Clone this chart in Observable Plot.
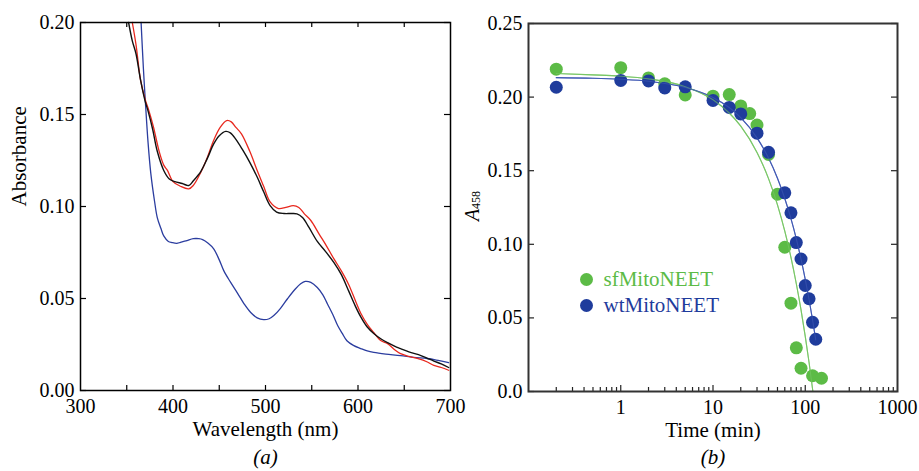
<!DOCTYPE html>
<html><head><meta charset="utf-8">
<script src="https://cdn.jsdelivr.net/npm/d3@7"></script>
<script src="https://cdn.jsdelivr.net/npm/@observablehq/plot@0.6"></script>
<style>
body{margin:0;background:#fff;}
#wrap{display:flex;width:919px;height:471px;background:#fff;}
#wrap svg{overflow:visible;flex:none;}
#wrap svg text{font-family:"Liberation Serif","Tinos","Times New Roman","DejaVu Serif","Noto Serif",serif;}
</style></head><body><div id="wrap"></div>
<script>
// ---------- Panel (a): absorbance spectra ----------
const blackWavelength = [352,356,360,365,370,373,378,383,390,396,402,410,417,422,430,437,444,450,457,462,468,475,483,491,498,505,512,520,528,534,540,547,556,565,574,582,590,597,603,610,617,625,632,640,646,655,668,675,682,690,698];
const blackAbsorbance = [0.200,0.190,0.183,0.1685,0.157,0.152,0.142,0.130,0.1196,0.115,0.1135,0.1125,0.1114,0.114,0.119,0.126,0.134,0.1385,0.1408,0.140,0.1365,0.131,0.124,0.116,0.108,0.1005,0.097,0.0962,0.0962,0.0960,0.094,0.0886,0.081,0.0755,0.0695,0.063,0.054,0.046,0.040,0.0345,0.031,0.028,0.026,0.024,0.0228,0.021,0.019,0.0175,0.016,0.0145,0.0125];

const redWavelength = [356,360,365,370,374,379,385,390,394,400,408,417,422,430,437,444,451,458,463,468,474,483,491,498,505,514,522,530,536,542,549,558,566,574,582,590,597,603,610,617,625,632,640,646,655,664,675,682,690,698];
const redAbsorbance = [0.200,0.188,0.1685,0.158,0.152,0.143,0.130,0.1225,0.1196,0.1135,0.111,0.1096,0.1115,0.1185,0.1265,0.136,0.143,0.1467,0.146,0.143,0.1395,0.130,0.1196,0.111,0.1025,0.0989,0.0995,0.1005,0.0995,0.096,0.0924,0.085,0.0785,0.0715,0.065,0.0575,0.049,0.042,0.036,0.0315,0.027,0.0255,0.022,0.020,0.0185,0.0174,0.0155,0.0136,0.0125,0.011];

const blueWavelength = [365.5,368,370,373,376,380,383,387,390,395,399,404,408,415,422,428,432,438,444,450,455,462,470,477,484,491,498,504,509,516,524,532,538,543,549,556,562,567,573,578,583,588,595,603,610,617,630,646,660,675,688,698];
const blueAbsorbance = [0.200,0.175,0.158,0.135,0.118,0.103,0.094,0.088,0.084,0.081,0.0804,0.080,0.0805,0.0815,0.0825,0.0825,0.082,0.080,0.077,0.071,0.065,0.059,0.0527,0.047,0.0424,0.0395,0.0385,0.039,0.0407,0.0445,0.050,0.055,0.058,0.0593,0.0588,0.056,0.052,0.047,0.041,0.0353,0.031,0.027,0.0245,0.0228,0.0215,0.0207,0.0198,0.019,0.018,0.0174,0.0162,0.0152];

const aXTickLabels = [300,400,500,600,700];
const aXTickMarks = [350,400,450,500,550,600,650];
const aYTicks = [0,0.05,0.10,0.15,0.20];

// ---------- Panel (b): A458 vs time ----------
const sfTime = [0.2,1,2,3,5,10,15,20,25,30,40,50,60,70,80,90,120,150];
const sfA458 = [0.219,0.220,0.213,0.209,0.2015,0.2006,0.2017,0.194,0.1888,0.181,0.161,0.134,0.098,0.060,0.0297,0.0158,0.0107,0.009];
const wtTime = [0.2,1,2,3,5,10,15,20,30,40,60,70,80,90,100,110,120,130];
const wtA458 = [0.2067,0.2113,0.211,0.2062,0.207,0.1977,0.193,0.1886,0.1755,0.1625,0.135,0.1214,0.1012,0.090,0.072,0.063,0.047,0.0355];

const sfFitTime = [0.2,0.5,1,2,5,10,15,20,30,40,50,60,70,80,90,100,110,121];
const sfFitA458 = [0.2160,0.2151,0.2142,0.2124,0.2071,0.1982,0.1892,0.1803,0.1624,0.1446,0.1268,0.1089,0.0911,0.0732,0.0554,0.0375,0.0197,0.0];
const wtFitTime = [0.2,0.5,1,2,5,10,15,20,30,40,50,60,70,80,90,100,110,120,130];
const wtFitA458 = [0.2132,0.2128,0.2121,0.2108,0.2066,0.1998,0.1929,0.1860,0.1723,0.1586,0.1449,0.1311,0.1174,0.1037,0.0899,0.0762,0.0625,0.0487,0.0350];

const bXTickLabels = [1,10,100,1000];
const bXMajor = [1,10,100];
const bXMinor = [0.2,0.3,0.4,0.5,0.6,0.7,0.8,0.9,2,3,4,5,6,7,8,9,20,30,40,50,60,70,80,90,200,300,400,500,600,700,800,900];
const bYTicks = [0,0.05,0.10,0.15,0.20,0.25];

const seriesNames = ["sfMitoNEET","wtMitoNEET"];

// ---------- styling ----------
const FONT = '"Liberation Serif", "Tinos", "Times New Roman", "DejaVu Serif", "Noto Serif", serif';
const RED = "#e8281e", BLACK = "#111111", BLUE_A = "#2b3d9f";
const GREEN = "#5cbb46", BLUE_B = "#1f3c9c", GREEN_LINE = "#78c665", BLUE_LINE = "#4058b4";

const rows = (xs, ys) => xs.map((x, i) => ({x, y: ys[i]}));

// Panel a geometry
const aW = 460, aH = 471, aMT = 22, aMR = 10, aMB = 81, aML = 80;
const aIH = aH - aMT - aMB, aIW = aW - aML - aMR;

const plotA = Plot.plot({
  width: aW, height: aH,
  marginTop: aMT, marginRight: aMR, marginBottom: aMB, marginLeft: aML,
  style: {fontFamily: FONT, fontSize: "20px", background: "transparent", overflow: "visible"},
  x: {domain: [300, 700], label: null},
  y: {domain: [0, 0.2], label: null},
  marks: [
    Plot.line(rows(blueWavelength, blueAbsorbance), {x: "x", y: "y", stroke: BLUE_A, strokeWidth: 1.3, curve: "catmull-rom"}),
    Plot.line(rows(redWavelength, redAbsorbance), {x: "x", y: "y", stroke: RED, strokeWidth: 1.3, curve: "catmull-rom"}),
    Plot.line(rows(blackWavelength, blackAbsorbance), {x: "x", y: "y", stroke: BLACK, strokeWidth: 1.4, curve: "catmull-rom"}),
    Plot.ruleX(aXTickMarks, {stroke: "black", strokeWidth: 1.2, insetTop: aIH - 5}),
    Plot.ruleX(aXTickMarks, {stroke: "black", strokeWidth: 1.2, insetBottom: aIH - 5}),
    Plot.ruleY(aYTicks, {stroke: "black", strokeWidth: 1.2, insetRight: aIW - 6}),
    Plot.ruleY(aYTicks, {stroke: "black", strokeWidth: 1.2, insetLeft: aIW - 6}),
    Plot.frame({stroke: "black", strokeWidth: 1.5}),
    Plot.axisX({ticks: aXTickLabels, tickSize: 0, tickPadding: 8, tickFormat: d => String(d), label: null, fontSize: 20, fontFamily: FONT}),
    Plot.axisY({ticks: aYTicks, tickSize: 0, tickPadding: 6, tickFormat: d3.format(".2f"), label: null, fontSize: 20, fontFamily: FONT}),
    Plot.text(["Wavelength (nm)"], {frameAnchor: "bottom", dy: 45, fontSize: 21, fill: "black", fontFamily: FONT}),
    Plot.text(["(a)"], {frameAnchor: "bottom", dy: 73, fontSize: 21, fontStyle: "italic", fill: "black", fontFamily: FONT}),
    Plot.text(["Absorbance"], {frameAnchor: "left", dx: -61, rotate: -90, fontSize: 21, fill: "black", fontFamily: FONT})
  ]
});

// Panel b geometry
const bW = 459, bH = 471, bMT = 23, bMR = 22, bMB = 80, bML = 68;
const bIH = bH - bMT - bMB, bIW = bW - bML - bMR;

const plotB = Plot.plot({
  width: bW, height: bH,
  marginTop: bMT, marginRight: bMR, marginBottom: bMB, marginLeft: bML,
  style: {fontFamily: FONT, fontSize: "20px", background: "transparent", overflow: "visible"},
  x: {type: "log", domain: [0.1, 1000], label: null},
  y: {domain: [0, 0.25], label: null},
  marks: [
    Plot.line(rows(sfFitTime, sfFitA458), {x: "x", y: "y", stroke: GREEN_LINE, strokeWidth: 1.1, curve: "monotone-x"}),
    Plot.line(rows(wtFitTime, wtFitA458), {x: "x", y: "y", stroke: BLUE_LINE, strokeWidth: 1.1, curve: "monotone-x"}),
    Plot.dot(rows(sfTime, sfA458), {x: "x", y: "y", r: 6.5, fill: GREEN, stroke: "none"}),
    Plot.dot(rows(wtTime, wtA458), {x: "x", y: "y", r: 6.5, fill: BLUE_B, stroke: "none"}),
    Plot.line(rows(sfFitTime, sfFitA458), {x: "x", y: "y", stroke: GREEN_LINE, strokeWidth: 1.1, curve: "monotone-x", strokeOpacity: 0.6}),
    Plot.line(rows(wtFitTime, wtFitA458), {x: "x", y: "y", stroke: BLUE_LINE, strokeWidth: 1.1, curve: "monotone-x", strokeOpacity: 0.6}),
    Plot.ruleX(bXMajor, {stroke: "#222", strokeWidth: 1.2, insetTop: bIH - 6}),
    Plot.ruleX(bXMinor, {stroke: "#222", strokeWidth: 1.2, insetTop: bIH - 4}),
    Plot.ruleY(bYTicks, {stroke: "#222", strokeWidth: 1.2, insetRight: bIW - 6}),
    Plot.ruleY(bYTicks, {stroke: "#222", strokeWidth: 1.2, insetLeft: bIW - 6}),
    Plot.frame({stroke: "#333", strokeWidth: 2}),
    Plot.axisX({ticks: bXTickLabels, tickSize: 0, tickPadding: 8, tickFormat: d => String(d), label: null, fontSize: 20, fontFamily: FONT}),
    Plot.axisY({ticks: bYTicks, tickSize: 0, tickPadding: 6, tickFormat: d => d === 0 ? "0.0" : d3.format(".2f")(d), label: null, fontSize: 20, fontFamily: FONT}),
    Plot.text(["Time (min)"], {frameAnchor: "bottom", dy: 45, fontSize: 21, fill: "black", fontFamily: FONT}),
    Plot.text(["(b)"], {frameAnchor: "bottom", dy: 72, fontSize: 21, fontStyle: "italic", fill: "black", fontFamily: FONT}),
    // legend
    Plot.dot([seriesNames[0]], {frameAnchor: "top-left", dx: 58, dy: 256, r: 6.5, fill: GREEN, stroke: "none"}),
    Plot.dot([seriesNames[1]], {frameAnchor: "top-left", dx: 58, dy: 282, r: 6.5, fill: BLUE_B, stroke: "none"}),
    Plot.text([seriesNames[0]], {text: d => d, frameAnchor: "top-left", dx: 75, dy: 256, textAnchor: "start", lineAnchor: "middle", fontSize: 21, fill: GREEN, fontFamily: FONT}),
    Plot.text([seriesNames[1]], {text: d => d, frameAnchor: "top-left", dx: 75, dy: 282, textAnchor: "start", lineAnchor: "middle", fontSize: 21, fill: BLUE_B, fontFamily: FONT})
  ]
});

// y-axis label A458 with italic A and subscript
const lab = d3.select(plotB).append("text")
  .attr("transform", "translate(19,206) rotate(-90)")
  .attr("text-anchor", "middle")
  .attr("font-family", FONT)
  .attr("font-size", 20)
  .attr("fill", "black");
lab.append("tspan").attr("font-style", "italic").text("A");
lab.append("tspan").attr("font-size", 12).attr("dy", "0.1em").text("458");

const wrap = document.getElementById("wrap");
wrap.appendChild(plotA);
wrap.appendChild(plotB);
</script></body></html>
